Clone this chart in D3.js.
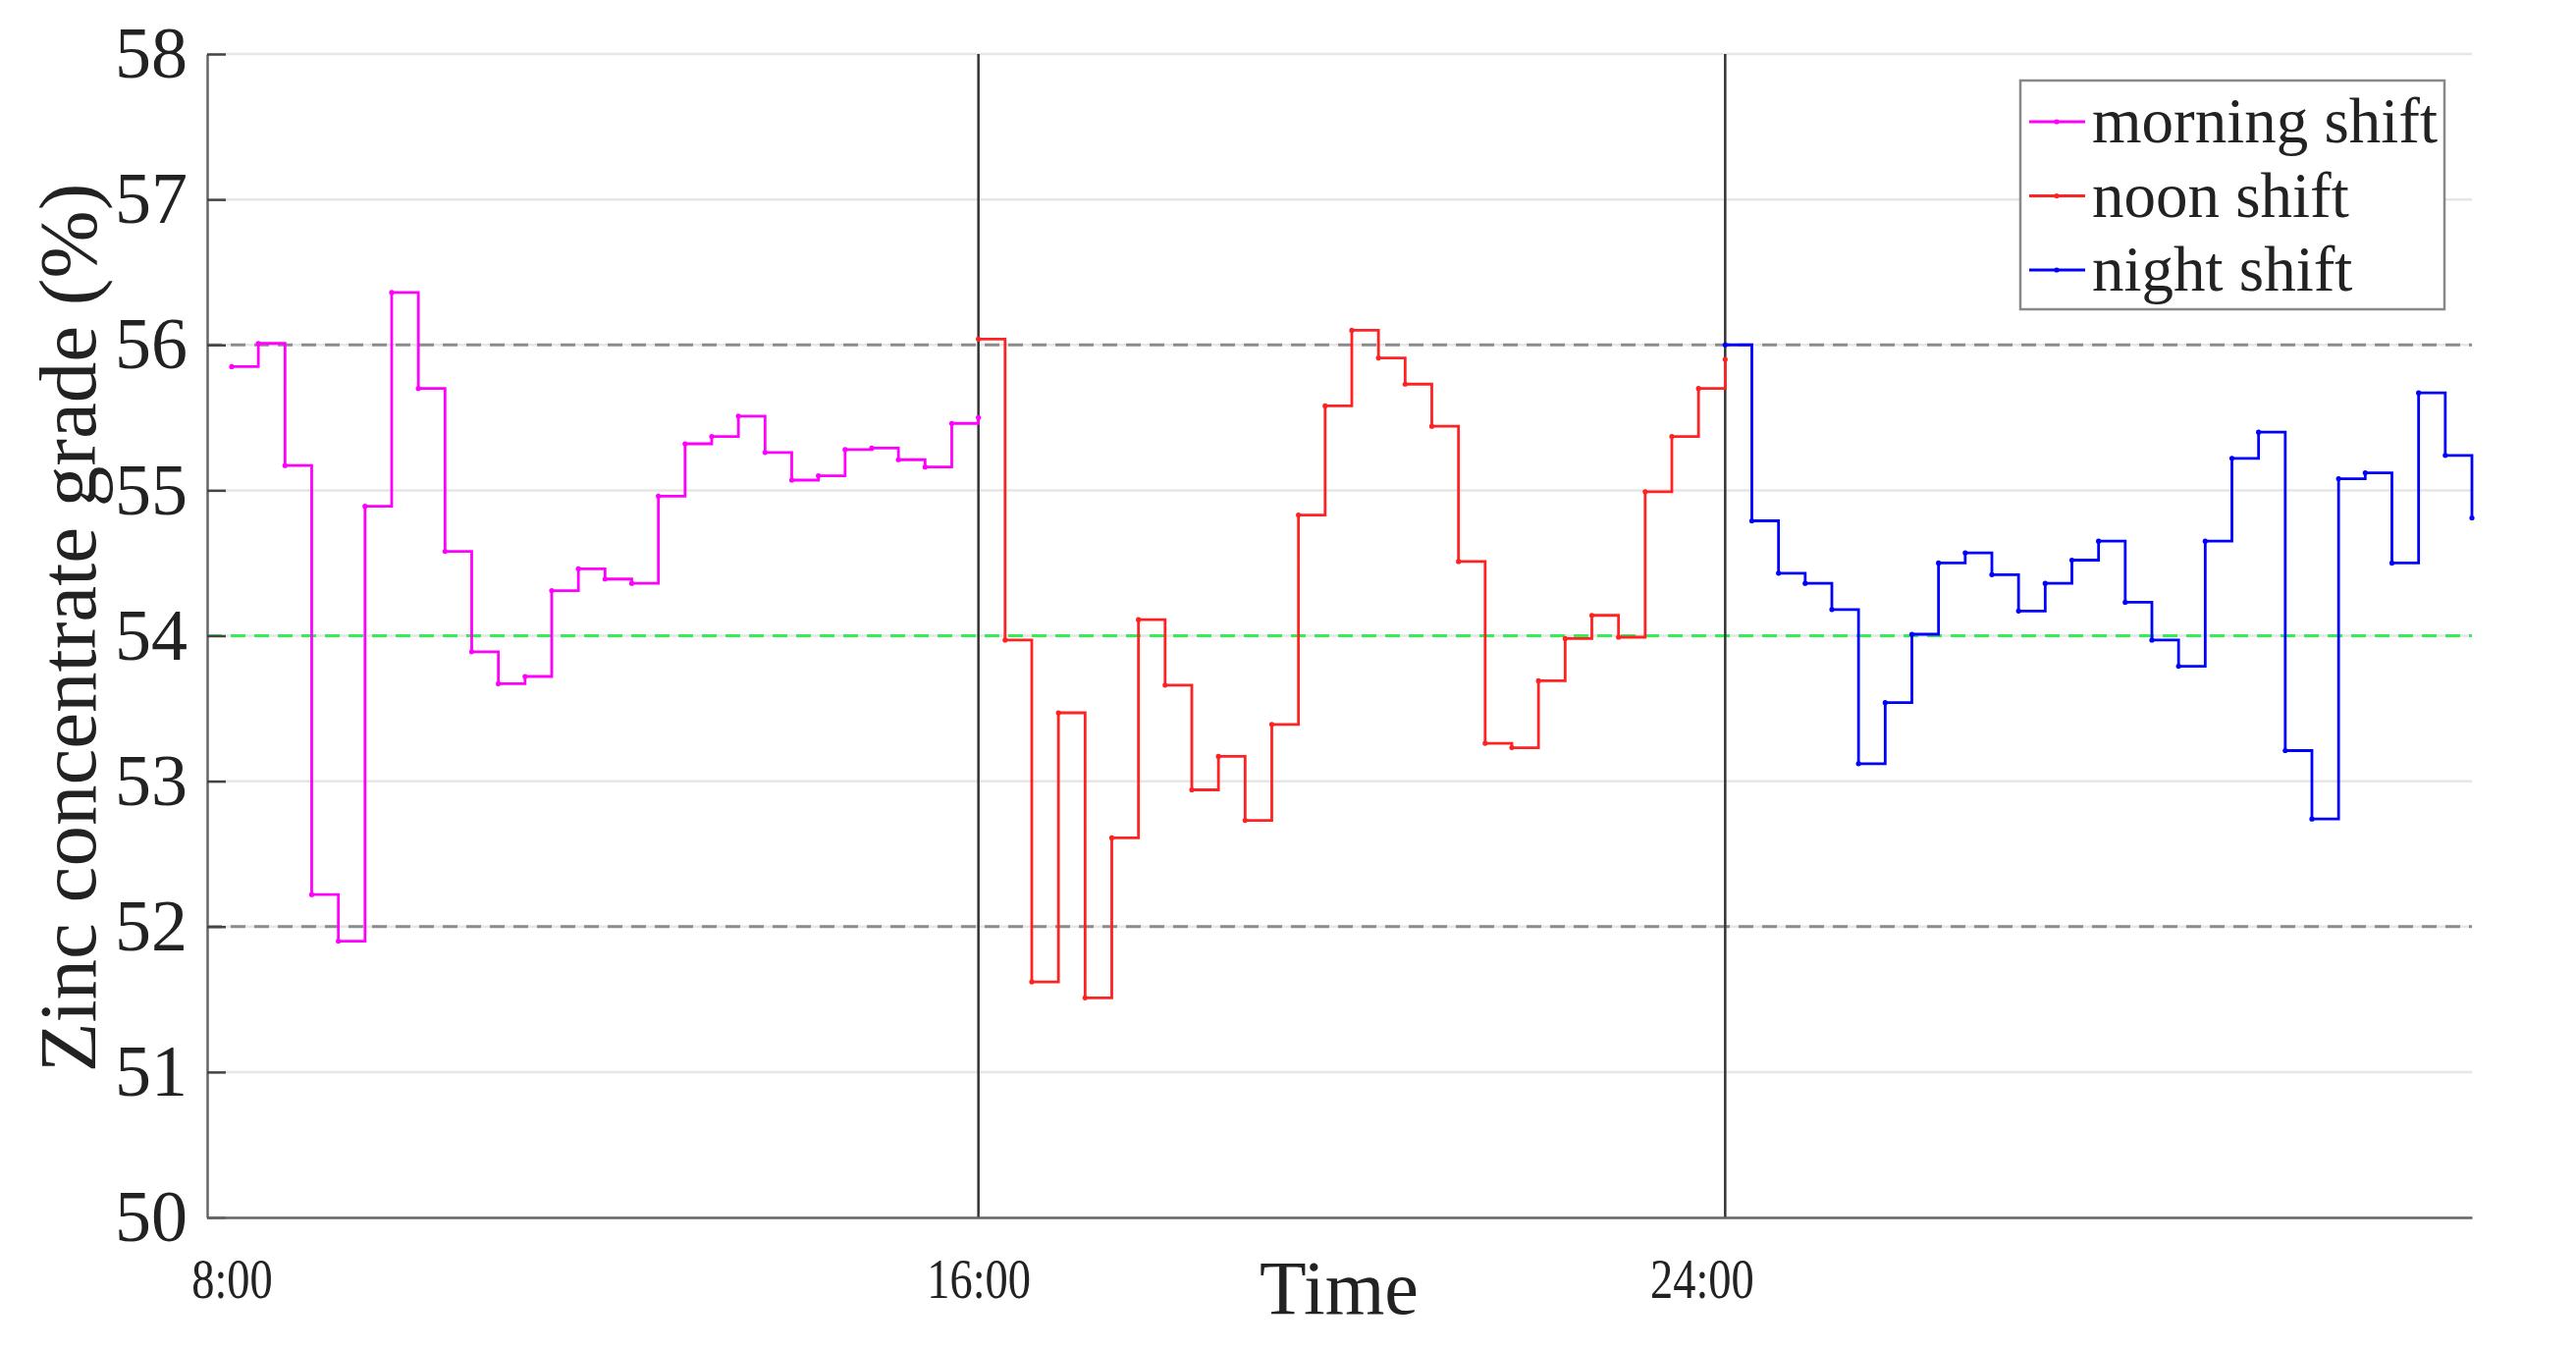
<!DOCTYPE html>
<html>
<head>
<meta charset="utf-8">
<script src="https://cdn.jsdelivr.net/npm/d3@7/dist/d3.min.js"></script>
<style>
body{margin:0;background:#fff;}
text{font-family:"Liberation Serif","Times New Roman",serif;fill:#222;}
</style>
</head>
<body>
<script>
// grade readings, one per sample, 28 steps per shift
var morning = [55.85,56.01,55.17,52.22,51.90,54.89,56.36,55.70,54.58,53.89,53.67,53.72,54.31,54.46,54.39,
  54.36,54.96,55.32,55.37,55.51,55.26,55.07,55.10,55.28,55.29,55.21,55.16,55.46,55.50];
var noon = [56.04,53.97,51.62,53.47,51.51,52.61,54.11,53.66,52.94,53.17,52.73,53.39,54.83,55.58,56.10,
  55.91,55.73,55.44,54.51,53.26,53.23,53.69,53.98,54.14,53.99,54.99,55.37,55.70,55.90];
var night = [56.00,54.79,54.43,54.36,54.18,53.12,53.54,54.01,54.50,54.57,54.42,54.17,54.36,54.52,54.65,
  54.23,53.97,53.79,54.65,55.22,55.40,53.21,52.74,55.08,55.12,54.50,55.67,55.24,54.81];

var shiftNames = ['morning shift','noon shift','night shift'];
var shiftStart = [0,28,56];
var timeLabels = ['8:00','16:00','24:00'];
var yTicks = [50,51,52,53,54,55,56,57,58];
var limitLines = [52,56];
var targetLine = [54];

var chart = {
  w:2624, h:1374,
  left:211, right:2518, top:55, bottom:1240,
  colors:['#ff00ff','#ff2222','#0000ff'],
  components:{},
  build:function(){
    var svg = d3.select('body').append('svg').attr('width',this.w).attr('height',this.h);
    this.components.svg = svg;
    this.x = d3.scaleLinear().domain([-0.92,84]).range([this.left,this.right]);
    this.y = d3.scaleLinear().domain([50,58]).range([this.bottom,this.top]);
  },
  grid:function(){
    var x = this.x, y = this.y, svg = this.components.svg;
    svg.append('g').selectAll('line').data(yTicks).enter().append('line')
      .attr('x1',this.left).attr('x2',this.right)
      .attr('y1',function(d){return y(d)}).attr('y2',function(d){return y(d)})
      .attr('stroke','#e6e6e6').attr('stroke-width',2.5);
    svg.append('g').selectAll('line').data(limitLines).enter().append('line')
      .attr('x1',this.left).attr('x2',this.right)
      .attr('y1',function(d){return y(d)}).attr('y2',function(d){return y(d)})
      .attr('stroke','#8c8c8c').attr('stroke-width',3).attr('stroke-dasharray','15,9');
    svg.append('g').selectAll('line').data(targetLine).enter().append('line')
      .attr('x1',this.left).attr('x2',this.right)
      .attr('y1',function(d){return y(d)}).attr('y2',function(d){return y(d)})
      .attr('stroke','#33ee55').attr('stroke-width',3).attr('stroke-dasharray','15,9');
    svg.append('g').selectAll('line').data(shiftStart.slice(1)).enter().append('line')
      .attr('x1',function(d){return x(d)}).attr('x2',function(d){return x(d)})
      .attr('y1',this.top).attr('y2',this.bottom)
      .attr('stroke','#333').attr('stroke-width',2.5);
  },
  axes:function(){
    var svg = this.components.svg;
    var yAxis = svg.append('g').attr('transform','translate('+this.left+',0)')
      .call(d3.axisLeft(this.y).tickValues(yTicks).tickSizeInner(-19).tickSizeOuter(0).tickPadding(20));
    yAxis.select('.domain').attr('stroke','#666').attr('stroke-width',2.5);
    yAxis.selectAll('.tick line').attr('stroke','#444').attr('stroke-width',2.5);
    yAxis.selectAll('text').attr('font-size',74).attr('fill','#222');

    var xAxis = svg.append('g').attr('transform','translate(0,'+this.bottom+')')
      .call(d3.axisBottom(this.x).tickValues(shiftStart).tickSize(0)
        .tickFormat(function(d,i){return timeLabels[i]}));
    xAxis.select('.domain').attr('stroke','#666').attr('stroke-width',2.5);
    xAxis.selectAll('text').attr('font-size',58)
      .attr('fill','#222').attr('y',82).attr('dy',0)
      .attr('dx',function(d,i){return i==2?-30:0})
      .attr('transform','scale(0.8,1)');

    svg.append('text').attr('x',1364).attr('y',1338).attr('text-anchor','middle')
      .attr('font-size',78).text('Time');
    svg.append('text').attr('transform','translate(97,'+((this.top+this.bottom)/2 - 8)+') rotate(-90)')
      .attr('text-anchor','middle').attr('font-size',83).text('Zinc concentrate grade (%)');
  },
  series:function(){
    var x = this.x, y = this.y, svg = this.components.svg, colors = this.colors;
    var line = d3.line().curve(d3.curveStepAfter)
      .x(function(d){return x(d.i)}).y(function(d){return y(d.v)});
    [morning,noon,night].forEach(function(vals,s){
      var pts = vals.map(function(v,k){return {i:shiftStart[s]+k, v:v}});
      var g = svg.append('g').attr('class','shift');
      g.append('path').datum(pts).attr('d',line)
        .attr('fill','none').attr('stroke',colors[s]).attr('stroke-width',2.8);
      g.selectAll('circle').data(pts).enter().append('circle')
        .attr('cx',function(d){return x(d.i)}).attr('cy',function(d){return y(d.v)})
        .attr('r',2.6).attr('fill',colors[s]);
    });
  },
  legend:function(){
    var svg = this.components.svg, colors = this.colors;
    var lg = svg.append('g').attr('transform','translate(2058,82)');
    lg.append('rect').attr('width',432).attr('height',233)
      .attr('fill','#fff').attr('stroke','#888').attr('stroke-width',2.5);
    var rows = lg.selectAll('.row').data(shiftNames).enter().append('g')
      .attr('class','row').attr('transform',function(d,i){return 'translate(0,'+(42+i*75.5)+')'});
    rows.append('line').attr('x1',9).attr('x2',66).attr('y1',0).attr('y2',0)
      .attr('stroke',function(d,i){return colors[i]}).attr('stroke-width',2.8);
    rows.append('circle').attr('cx',37).attr('cy',0).attr('r',2.6)
      .attr('fill',function(d,i){return colors[i]});
    rows.append('text').attr('x',73).attr('y',21).attr('font-size',65).text(function(d){return d});
  }
};

chart.build();
chart.grid();
chart.axes();
chart.series();
chart.legend();
</script>
</body>
</html>
